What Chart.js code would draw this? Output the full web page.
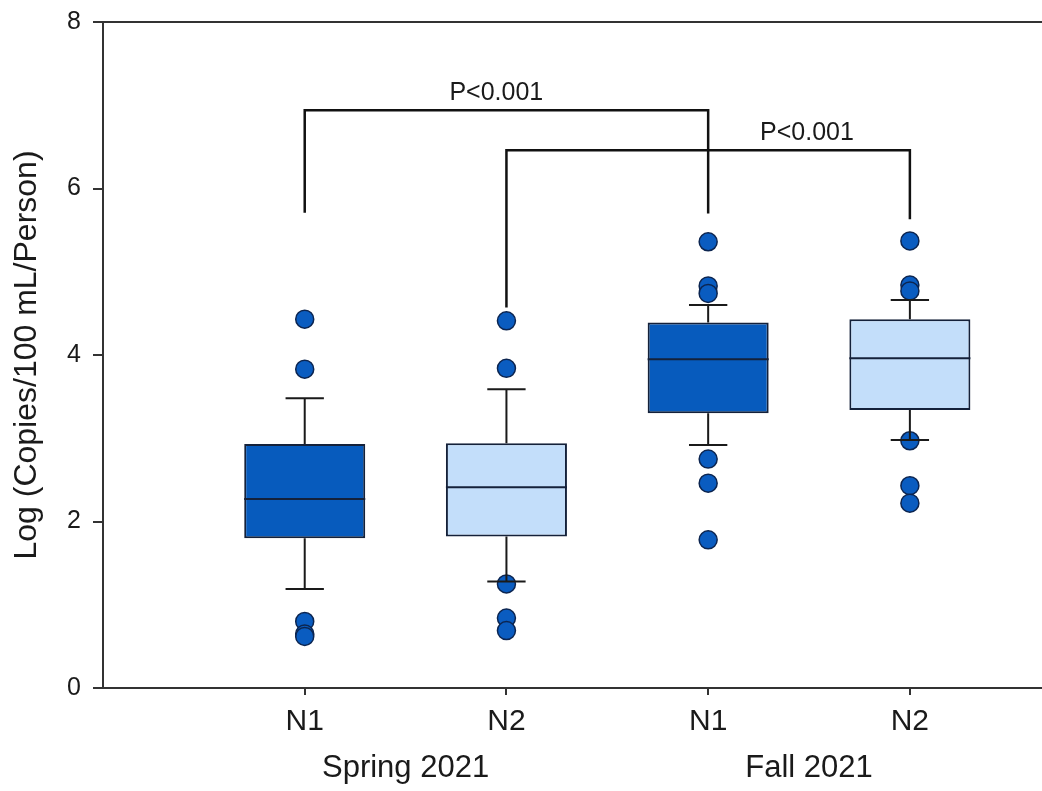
<!DOCTYPE html>
<html>
<head>
<meta charset="utf-8">
<script src="https://cdn.jsdelivr.net/npm/chart.js@4/dist/chart.umd.min.js"></script>
<style>
  html, body { margin: 0; padding: 0; background: #ffffff; }
  #wrap { width: 1042px; height: 791px; }
</style>
</head>
<body>
<div id="wrap"><canvas id="chart" width="1042" height="791"></canvas></div>
<script>
// Sample groups (gene target per season)
const categories = ['N1', 'N2', 'N1', 'N2'];
const seasons = ['Spring 2021', 'Fall 2021'];
const seasonOf = [0, 0, 1, 1];

// Box statistics, log copies / 100 mL / person
const lowerQuartile = [1.80, 1.82, 3.30, 3.34];
const median = [2.27, 2.41, 3.95, 3.96];
const upperQuartile = [2.93, 2.94, 4.39, 4.43];
const whiskerLow = [1.19, 1.28, 2.92, 2.98];
const whiskerHigh = [3.48, 3.59, 4.60, 4.66];

// Points outside the whiskers
const outliersSpringN1 = [4.43, 3.83, 0.80, 0.65, 0.62];
const outliersSpringN2 = [4.41, 3.84, 1.25, 0.84, 0.69];
const outliersFallN1 = [5.36, 4.83, 4.74, 2.75, 2.46, 1.78];
const outliersFallN2 = [5.37, 4.84, 4.77, 2.97, 2.43, 2.22];

// Pairwise comparisons: group indices (1-based), bracket height, leg ends, p-value text
const compareFrom = [1, 2];
const compareTo = [3, 4];
const bracketTop = [6.94, 6.46];
const legEndFrom = [5.71, 4.57];
const legEndTo = [5.70, 5.63];
const pValueText = ['P<0.001', 'P<0.001'];

// Y axis ticks
const yTicks = [0, 2, 4, 6, 8];

const groupPos = categories.map((_, i) => i + 1);
const outlierGroups = [outliersSpringN1, outliersSpringN2, outliersFallN1, outliersFallN2];
const seasonPos = seasons.map((_, s) => {
  const members = groupPos.filter((_, i) => seasonOf[i] === s);
  return members.reduce((a, b) => a + b, 0) / members.length;
});

const DARK = '#075bbd';
const LIGHT = '#c3defa';
const EDGE = '#14213a';
const INK = '#1a1a1a';
const AXIS = '#333333';
const FONT = "'Liberation Sans', Arial, sans-serif";

// Whiskers, caps and medians drawn over the boxes and points
const boxExtras = {
  id: 'boxExtras',
  afterDatasetsDraw(chart, args, opts) {
    const { ctx, scales: { x, y } } = chart;
    const bars = chart.getDatasetMeta(0).data;
    ctx.save();
    ctx.lineCap = 'butt';
    groupPos.forEach((g, i) => {
      const cx = x.getPixelForValue(g);
      const capHalf = (x.getPixelForValue(g + opts.capWidth / 2) - x.getPixelForValue(g - opts.capWidth / 2)) / 2;
      ctx.strokeStyle = INK;
      ctx.lineWidth = 2;
      ctx.beginPath();
      ctx.moveTo(cx, y.getPixelForValue(upperQuartile[i]));
      ctx.lineTo(cx, y.getPixelForValue(whiskerHigh[i]));
      ctx.moveTo(cx, y.getPixelForValue(lowerQuartile[i]));
      ctx.lineTo(cx, y.getPixelForValue(whiskerLow[i]));
      ctx.moveTo(cx - capHalf, y.getPixelForValue(whiskerHigh[i]));
      ctx.lineTo(cx + capHalf, y.getPixelForValue(whiskerHigh[i]));
      ctx.moveTo(cx - capHalf, y.getPixelForValue(whiskerLow[i]));
      ctx.lineTo(cx + capHalf, y.getPixelForValue(whiskerLow[i]));
      ctx.stroke();
      const half = bars[i].width / 2;
      ctx.strokeStyle = EDGE;
      ctx.beginPath();
      ctx.moveTo(cx - half, y.getPixelForValue(median[i]));
      ctx.lineTo(cx + half, y.getPixelForValue(median[i]));
      ctx.stroke();
    });
    ctx.restore();
  }
};

// Significance brackets with p-value labels
const brackets = {
  id: 'brackets',
  afterDatasetsDraw(chart, args, opts) {
    const { ctx, scales: { x, y } } = chart;
    ctx.save();
    ctx.strokeStyle = '#111111';
    ctx.lineWidth = 2.5;
    ctx.lineCap = 'butt';
    ctx.lineJoin = 'miter';
    compareFrom.forEach((a, k) => {
      const b = compareTo[k];
      const xa = x.getPixelForValue(a);
      const xb = x.getPixelForValue(b);
      const yt = y.getPixelForValue(bracketTop[k]);
      ctx.beginPath();
      ctx.moveTo(xa, y.getPixelForValue(legEndFrom[k]));
      ctx.lineTo(xa, yt);
      ctx.lineTo(xb, yt);
      ctx.lineTo(xb, y.getPixelForValue(legEndTo[k]));
      ctx.stroke();
      ctx.fillStyle = INK;
      ctx.font = '25px ' + FONT;
      ctx.textAlign = 'center';
      ctx.textBaseline = 'alphabetic';
      ctx.fillText(pValueText[k], x.getPixelForValue(opts.labelAt[k]), yt - 10);
    });
    ctx.restore();
  }
};

const xRange = { min: 0, max: 4.65 };

new Chart(document.getElementById('chart'), {
  data: {
    datasets: [
      {
        type: 'bar',
        data: groupPos.map((g, i) => ({ x: g, y: [lowerQuartile[i], upperQuartile[i]] })),
        backgroundColor: groupPos.map((_, i) => (i % 2 === 0 ? DARK : LIGHT)),
        borderColor: EDGE,
        borderWidth: 2,
        borderSkipped: false,
        categoryPercentage: 1,
        barPercentage: 0.6,
        order: 2
      },
      {
        type: 'scatter',
        data: outlierGroups.flatMap((vals, i) => vals.map(v => ({ x: groupPos[i], y: v }))),
        backgroundColor: '#0a5cc0',
        borderColor: '#0c2550',
        borderWidth: 1.5,
        pointRadius: 9,
        order: 1
      }
    ]
  },
  options: {
    responsive: false,
    animation: false,
    devicePixelRatio: 1,
    layout: { autoPadding: false, padding: { top: 22, right: 1, bottom: 0, left: 0 } },
    plugins: {
      legend: { display: false },
      tooltip: { enabled: false },
      boxExtras: { capWidth: 0.19 },
      brackets: { labelAt: [1.95, 3.49] }
    },
    scales: {
      x: {
        type: 'linear',
        position: 'bottom',
        offset: false,
        min: xRange.min,
        max: xRange.max,
        afterBuildTicks: s => { s.ticks = groupPos.map(v => ({ value: v })); },
        afterFit: s => { s.height = 57; },
        ticks: {
          callback: v => categories[Math.round(v) - 1],
          font: { family: FONT, size: 30 },
          color: INK,
          padding: 9,
          maxRotation: 0,
          autoSkip: false
        },
        grid: { offset: false, drawOnChartArea: false, drawTicks: true, tickLength: 7, color: AXIS, lineWidth: 2 },
        border: { display: true, color: AXIS, width: 2 }
      },
      season: {
        type: 'linear',
        position: 'bottom',
        offset: false,
        min: xRange.min,
        max: xRange.max,
        afterBuildTicks: s => { s.ticks = seasonPos.map(v => ({ value: v })); },
        afterFit: s => { s.height = 46; },
        ticks: {
          callback: (v, i) => seasons[i],
          font: { family: FONT, size: 31 },
          color: INK,
          padding: 5,
          maxRotation: 0,
          autoSkip: false
        },
        grid: { display: false, drawTicks: false },
        border: { display: false }
      },
      frameTop: {
        type: 'linear',
        position: 'top',
        offset: false,
        min: xRange.min,
        max: xRange.max,
        afterFit: s => { s.height = 0; },
        ticks: { display: false },
        grid: { display: false, drawTicks: false },
        border: { display: true, color: AXIS, width: 2 }
      },
      y: {
        type: 'linear',
        min: 0,
        max: 8,
        afterBuildTicks: s => { s.ticks = yTicks.map(v => ({ value: v })); },
        afterFit: s => { s.width = 103; s.paddingTop = 0; s.paddingBottom = 0; },
        ticks: {
          font: { family: FONT, size: 25 },
          color: INK,
          padding: 12
        },
        grid: { drawOnChartArea: false, drawTicks: true, tickLength: 10, color: AXIS, lineWidth: 2 },
        border: { display: true, color: AXIS, width: 2 },
        title: {
          display: true,
          text: 'Log (Copies/100 mL/Person)',
          font: { family: FONT, size: 32 },
          color: INK,
          padding: { top: 8, bottom: 0 }
        }
      }
    }
  },
  plugins: [boxExtras, brackets]
});
</script>
</body>
</html>
